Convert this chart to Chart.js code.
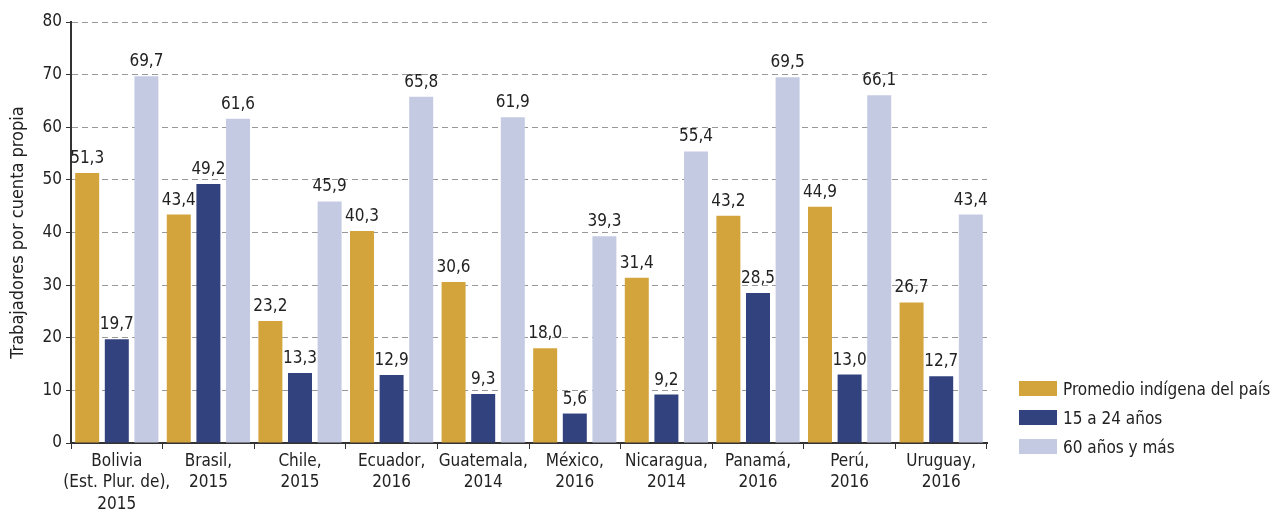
<!DOCTYPE html>
<html>
<head>
<meta charset="utf-8">
<script src="https://cdn.jsdelivr.net/npm/chart.js@4"></script>
<style>
  body { margin: 0; background: #fff; }
  #wrap { width: 1277px; height: 511px; position: relative; }
  #leyenda { position: absolute; left: 1019px; top: 374px; font-family: 'Liberation Sans Narrow', 'DejaVu Sans Condensed', Roboto, sans-serif; font-size: 17px; color: #222; }
  #leyenda div { height: 29px; display: flex; align-items: center; white-space: nowrap; }
  #leyenda span.caja { display: inline-block; width: 38px; height: 15px; margin-right: 6px; }
</style>
</head>
<body>
<div id="wrap"><canvas id="chart"></canvas><div id="leyenda"></div></div>
<script>
// Datos del gráfico
const paises = [
  ["Bolivia", "(Est. Plur. de),", "2015"],
  ["Brasil,", "2015"],
  ["Chile,", "2015"],
  ["Ecuador,", "2016"],
  ["Guatemala,", "2014"],
  ["México,", "2016"],
  ["Nicaragua,", "2014"],
  ["Panamá,", "2016"],
  ["Perú,", "2016"],
  ["Uruguay,", "2016"]
];
const promedio = [51.3, 43.4, 23.2, 40.3, 30.6, 18.0, 31.4, 43.2, 44.9, 26.7];
const jovenes = [19.7, 49.2, 13.3, 12.9, 9.3, 5.6, 9.2, 28.5, 13.0, 12.7];
const mayores = [69.7, 61.6, 45.9, 65.8, 61.9, 39.3, 55.4, 69.5, 66.1, 43.4];
const nombresSeries = ["Promedio indígena del país", "15 a 24 años", "60 años y más"];
const colores = ["#D4A43C", "#32427F", "#C5CAE3"];

const FONT = "'Liberation Sans Narrow', 'DejaVu Sans Condensed', Roboto, sans-serif";
const TXT = "#222";

// Etiquetas de valores encima de las barras
const etiquetas = {
  id: "etiquetas",
  afterDatasetsDraw(chart) {
    const ctx = chart.ctx;
    ctx.save();
    ctx.font = "17px " + FONT;
    ctx.fillStyle = TXT;
    ctx.textAlign = "center";
    ctx.textBaseline = "alphabetic";
    chart.data.datasets.forEach((ds, i) => {
      chart.getDatasetMeta(i).data.forEach((bar, j) => {
        ctx.fillText(ds.data[j].toFixed(1).replace(".", ","), bar.x, bar.y - 10);
      });
    });
    ctx.restore();
  }
};

// Leyenda en HTML
const ley = document.getElementById("leyenda");
nombresSeries.forEach((n, i) => {
  const fila = document.createElement("div");
  fila.innerHTML = `<span class="caja" style="background:${colores[i]}"></span>${n}`;
  ley.appendChild(fila);
});

new Chart(document.getElementById("chart"), {
  type: "bar",
  data: {
    labels: paises,
    datasets: [
      { label: nombresSeries[0], data: promedio, backgroundColor: colores[0] },
      { label: nombresSeries[1], data: jovenes, backgroundColor: colores[1] },
      { label: nombresSeries[2], data: mayores, backgroundColor: colores[2] }
    ]
  },
  options: {
    responsive: true,
    maintainAspectRatio: false,
    animation: false,
    datasets: { bar: { categoryPercentage: 0.97, barPercentage: 0.81 } },
    layout: { padding: { top: 22, right: 290, left: 0, bottom: 0 } },
    plugins: {
      tooltip: { enabled: false },
      legend: { display: false }
    },
    scales: {
      x: {
        afterFit(scale) { scale.height = 68; },
        grid: { drawOnChartArea: false, drawTicks: true, tickLength: 6, tickColor: "#333", offset: true },
        border: { color: "#333", width: 2 },
        ticks: { color: TXT, font: { family: FONT, size: 17, lineHeight: 1.25 }, maxRotation: 0, autoSkip: false, padding: 2 }
      },
      y: {
        min: 0,
        max: 80,
        afterFit(scale) { scale.width = 71; },
        ticks: { stepSize: 10, color: TXT, font: { family: FONT, size: 17 }, padding: 4 },
        grid: { color: "#999", tickColor: "#333", tickLength: 5 },
        border: { color: "#333", width: 2, dash: [6, 4] },
        title: {
          display: true,
          text: "Trabajadores por cuenta propia",
          color: TXT,
          font: { family: FONT, size: 18 },
          padding: { top: 8, bottom: 2 }
        }
      }
    }
  },
  plugins: [etiquetas]
});
</script>
</body>
</html>
